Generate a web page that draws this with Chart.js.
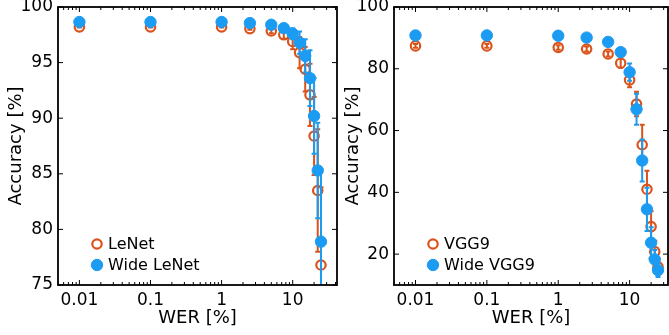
<!DOCTYPE html>
<html>
<head>
<meta charset="utf-8">
<script src="https://cdn.jsdelivr.net/npm/chart.js@4.4.1/dist/chart.umd.min.js"></script>
<style>
  html, body { margin: 0; padding: 0; background: #fff; }
  #wrap { position: relative; width: 669px; height: 335px; }
  .panel { position: absolute; top: 0; }
</style>
</head>
<body>
<div id="wrap">
  <div class="panel" style="left:0"><canvas id="left" width="340" height="335"></canvas></div>
  <div class="panel" style="left:340px"><canvas id="right" width="329" height="335"></canvas></div>
</div>
<script>
// WER levels (x axis, log)
const werLevels = [0.01, 0.1, 1, 2.5, 5, 7.5, 10, 12.5, 15, 17.5, 20, 22.5, 25];

// left panel: LeNet
const lenetAcc = [98.2, 98.2, 98.2, 98.05, 97.85, 97.5, 96.9, 95.9, 94.4, 92.1, 88.4, 83.5, 76.8];
const lenetErr = [0.05, 0.05, 0.05, 0.1, 0.2, 0.35, 0.7, 1.4, 2.0, 2.8, 3.5, 5.5, 7.0];
const wideLenetAcc = [98.65, 98.65, 98.65, 98.55, 98.4, 98.1, 97.6, 96.8, 95.6, 93.6, 90.2, 85.3, 78.9];
const wideLenetErr = [0.05, 0.05, 0.05, 0.1, 0.15, 0.3, 0.5, 1.0, 1.5, 2.5, 3.4, 4.3, 6.5];

// right panel: VGG9
const vggAcc = [87.4, 87.4, 86.9, 86.4, 84.8, 81.8, 76.4, 68.6, 55.4, 41.0, 28.9, 20.8, 15.9];
const vggErr = [0.6, 0.6, 0.7, 0.8, 0.8, 1.5, 2.4, 4.0, 6.5, 6.0, 5.0, 3.5, 2.5];
const wideVggAcc = [90.8, 90.8, 90.7, 90.1, 88.7, 85.4, 78.9, 66.9, 50.3, 34.5, 23.7, 18.3, 14.8];
const wideVggErr = [0.3, 0.3, 0.3, 0.4, 0.5, 1.0, 2.8, 5.0, 6.8, 7.0, 5.0, 3.0, 2.2];

// tick labels
const xTicks = [0.01, 0.1, 1, 10];
const yTicksLeft = [75, 80, 85, 90, 95, 100];
const yTicksRight = [20, 40, 60, 80, 100];

const ORANGE = '#D9531A';
const BLUE = '#1C9BF2';
const FONT = 'DejaVu Sans';

Chart.defaults.font.family = FONT;
Chart.defaults.color = '#000';

// error bars drawn just before each dataset's points
const errorBars = {
  id: 'errorBars',
  beforeDatasetDraw(chart, args) {
    const ds = chart.data.datasets[args.index];
    if (!ds.errors) return;
    const { ctx, chartArea: a, scales: { x, y } } = chart;
    ctx.save();
    ctx.beginPath();
    ctx.rect(a.left, a.top, a.right - a.left, a.bottom - a.top);
    ctx.clip();
    ctx.strokeStyle = ds.borderColor;
    ctx.lineWidth = 2;
    ctx.beginPath();
    ds.data.forEach((p, i) => {
      const px = x.getPixelForValue(p.x);
      const top = y.getPixelForValue(p.y + ds.errors[i]);
      const bot = y.getPixelForValue(p.y - ds.errors[i]);
      ctx.moveTo(px, top); ctx.lineTo(px, bot);
      ctx.moveTo(px - 2.5, top); ctx.lineTo(px + 2.5, top);
      ctx.moveTo(px - 2.5, bot); ctx.lineTo(px + 2.5, bot);
    });
    ctx.stroke();
    ctx.restore();
  }
};

// box around the plot with inward ticks on all four sides
const boxTicks = {
  id: 'boxTicks',
  afterDatasetsDraw(chart) {
    const { ctx, chartArea: a, scales: { x, y } } = chart;
    ctx.save();
    ctx.strokeStyle = '#000';
    ctx.lineWidth = 1;
    ctx.beginPath();
    for (let d = -3; d <= 2; d++) {
      for (let k = 1; k <= 9; k++) {
        const v = k * Math.pow(10, d);
        if (v < x.min || v > x.max) continue;
        const px = x.getPixelForValue(v);
        const len = k === 1 ? 5 : 3;
        ctx.moveTo(px, a.bottom); ctx.lineTo(px, a.bottom - len);
        ctx.moveTo(px, a.top); ctx.lineTo(px, a.top + len);
      }
    }
    y.ticks.forEach(t => {
      const py = y.getPixelForValue(t.value);
      ctx.moveTo(a.left, py); ctx.lineTo(a.left + 5, py);
      ctx.moveTo(a.right, py); ctx.lineTo(a.right - 5, py);
    });
    ctx.stroke();
    ctx.lineWidth = 1.8;
    ctx.strokeRect(a.left, a.top, a.right - a.left, a.bottom - a.top);
    ctx.restore();
  }
};

// legend in the lower left corner of the plot
const insideLegend = {
  id: 'insideLegend',
  afterDraw(chart) {
    const { ctx, chartArea: a } = chart;
    const rows = [a.bottom - 41, a.bottom - 20];
    ctx.save();
    chart.data.datasets.forEach((ds, i) => {
      const cx = a.left + 39, cy = rows[i];
      ctx.beginPath();
      ctx.arc(cx, cy, ds.pointRadius, 0, Math.PI * 2);
      ctx.lineWidth = ds.pointBorderWidth;
      ctx.strokeStyle = ds.borderColor;
      ctx.stroke();
      if (ds.backgroundColor !== 'transparent') {
        ctx.fillStyle = ds.backgroundColor;
        ctx.fill();
      }
      ctx.fillStyle = '#000';
      ctx.font = '16px ' + FONT;
      ctx.textBaseline = 'middle';
      ctx.textAlign = 'left';
      ctx.fillText(ds.label, a.left + 50, cy + 1);
    });
    ctx.restore();
  }
};

function makeChart(id, cfg) {
  const openSet = {
    label: cfg.names[0],
    data: werLevels.map((w, i) => ({ x: w, y: cfg.open[i] })),
    errors: cfg.openErr,
    borderColor: ORANGE,
    backgroundColor: 'transparent',
    pointRadius: 4.7,
    pointBorderWidth: 2.2,
    pointHoverRadius: 4.7,
    showLine: false,
    order: 1
  };
  const filledSet = {
    label: cfg.names[1],
    data: werLevels.map((w, i) => ({ x: w, y: cfg.filled[i] })),
    errors: cfg.filledErr,
    borderColor: BLUE,
    backgroundColor: BLUE,
    pointRadius: 5.7,
    pointBorderWidth: 1,
    pointHoverRadius: 5.7,
    showLine: false,
    order: 0
  };
  return new Chart(document.getElementById(id), {
    type: 'scatter',
    data: { datasets: [openSet, filledSet] },
    plugins: [errorBars, boxTicks, insideLegend],
    options: {
      responsive: false,
      animation: false,
      layout: { autoPadding: false, padding: { top: 7, right: cfg.padRight, left: 0, bottom: 0 } },
      plugins: { legend: { display: false }, tooltip: { enabled: false } },
      scales: {
        x: {
          type: 'logarithmic',
          min: 0.005,
          max: cfg.xMax,
          grid: { display: false, drawTicks: false },
          border: { display: false },
          ticks: {
            font: { size: 17 },
            padding: 5,
            maxRotation: 0,
            autoSkip: false,
            callback: v => String(v)
          },
          afterBuildTicks: s => { s.ticks = xTicks.map(v => ({ value: v })); },
          afterFit: s => { s.height = 50; s.paddingLeft = 0; s.paddingRight = 0; },
          title: { display: true, text: 'WER [%]', font: { size: 18 }, padding: { top: 0, bottom: 6 } }
        },
        y: {
          min: cfg.yMin,
          max: 100,
          grid: { display: false, drawTicks: false },
          border: { display: false },
          ticks: { font: { size: 17 }, padding: 5 },
          afterBuildTicks: s => { s.ticks = cfg.yTicks.map(v => ({ value: v })); },
          afterFit: s => { s.width = cfg.yWidth; s.paddingTop = 0; s.paddingBottom = 0; },
          title: { display: true, text: 'Accuracy [%]', font: { size: 18 }, padding: { top: cfg.titlePad, bottom: 0 } }
        }
      }
    }
  });
}

makeChart('left', {
  names: ['LeNet', 'Wide LeNet'],
  open: lenetAcc, openErr: lenetErr,
  filled: wideLenetAcc, filledErr: wideLenetErr,
  yMin: 75, yTicks: yTicksLeft, xMax: 42,
  yWidth: 58, padRight: 3, titlePad: 6
});

makeChart('right', {
  names: ['VGG9', 'Wide VGG9'],
  open: vggAcc, openErr: vggErr,
  filled: wideVggAcc, filledErr: wideVggErr,
  yMin: 10, yTicks: yTicksRight, xMax: 34.5,
  yWidth: 54, padRight: 1, titlePad: 3
});
</script>
</body>
</html>
